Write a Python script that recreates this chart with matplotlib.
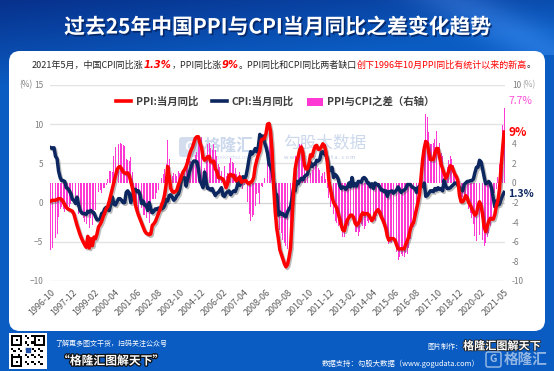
import matplotlib
matplotlib.use('Agg')
import matplotlib.pyplot as plt
import matplotlib.patheffects as pe
import matplotlib.transforms as mtransforms
from matplotlib.patches import FancyBboxPatch, Patch, Rectangle
from matplotlib.lines import Line2D
import numpy as np
import pandas as pd

plt.rcParams['font.family'] = ['Noto Sans CJK SC', 'DejaVu Sans']

# monthly data, 1996-10 .. 2021-05
months = pd.period_range('1996-10', '2021-05', freq='M')

cpi = [
    7.0, 6.9, 7.0,  # 1996 Oct-Dec
    5.9, 5.6, 4.0, 3.2, 2.8, 2.8, 2.7, 1.9, 1.8, 1.5, 1.1, 0.4,  # 1997
    0.3, -0.1, 0.7, -0.3, -1.0, -1.3, -1.4, -1.4, -1.5, -1.1, -1.2, -1.0,  # 1998
    -1.2, -1.3, -1.8, -2.2, -2.2, -2.1, -1.4, -1.3, -0.8, -0.6, -0.9, -1.0,  # 1999
    -0.2, 0.7, -0.2, -0.3, 0.1, 0.5, 0.5, 0.3, 0.0, 0.0, 1.3, 1.5,  # 2000
    1.2, 0.0, 0.8, 1.6, 1.7, 1.4, 1.5, 1.0, -0.1, 0.2, -0.3, -0.3,  # 2001
    -1.0, 0.0, -0.8, -1.3, -1.1, -0.8, -0.9, -0.7, -0.7, -0.8, -0.7, -0.4,  # 2002
    0.4, 0.2, 0.9, 1.0, 0.7, 0.3, 0.5, 0.9, 1.1, 1.8, 3.0, 3.2,  # 2003
    3.2, 2.1, 3.0, 3.8, 4.4, 5.0, 5.3, 5.3, 5.2, 4.3, 2.8, 2.4,  # 2004
    1.9, 3.9, 2.7, 1.8, 1.8, 1.6, 1.8, 1.3, 0.9, 1.2, 1.3, 1.6,  # 2005
    1.9, 0.9, 0.8, 1.2, 1.4, 1.5, 1.0, 1.3, 1.5, 1.4, 1.9, 2.8,  # 2006
    2.2, 2.7, 3.3, 3.0, 3.4, 4.4, 5.6, 6.5, 6.2, 6.5, 6.9, 6.5,  # 2007
    7.1, 8.7, 8.3, 8.5, 7.7, 7.1, 6.3, 4.9, 4.6, 4.0, 2.4, 1.2,  # 2008
    1.0, -1.6, -1.2, -1.5, -1.4, -1.7, -1.8, -1.2, -0.8, -0.5, 0.6, 1.9,  # 2009
    1.5, 2.7, 2.4, 2.8, 3.1, 2.9, 3.3, 3.5, 3.6, 4.4, 5.1, 4.6,  # 2010
    4.9, 4.9, 5.4, 5.3, 5.5, 6.4, 6.5, 6.2, 6.1, 5.5, 4.2, 4.1,  # 2011
    4.5, 3.2, 3.6, 3.4, 3.0, 2.2, 1.8, 2.0, 1.9, 1.7, 2.0, 2.5,  # 2012
    2.0, 3.2, 2.1, 2.4, 2.1, 2.7, 2.7, 2.6, 3.1, 3.2, 3.0, 2.5,  # 2013
    2.5, 2.0, 2.4, 1.8, 2.5, 2.3, 2.3, 2.0, 1.6, 1.6, 1.4, 1.5,  # 2014
    0.8, 1.4, 1.4, 1.5, 1.2, 1.4, 1.6, 2.0, 1.6, 1.3, 1.5, 1.6,  # 2015
    1.8, 2.3, 2.3, 2.3, 2.0, 1.9, 1.8, 1.3, 1.9, 2.1, 2.3, 2.1,  # 2016
    2.5, 0.8, 0.9, 1.2, 1.5, 1.5, 1.4, 1.8, 1.6, 1.9, 1.7, 1.8,  # 2017
    1.5, 2.9, 2.1, 1.8, 1.8, 1.9, 2.1, 2.3, 2.5, 2.5, 2.2, 1.9,  # 2018
    1.7, 1.5, 2.3, 2.5, 2.7, 2.7, 2.8, 2.8, 3.0, 3.8, 4.5, 4.5,  # 2019
    5.4, 5.2, 4.3, 3.3, 2.4, 2.5, 2.7, 2.4, 1.7, 0.5, -0.5, 0.2,  # 2020
    -0.3, -0.2, 0.4, 0.9, 1.3,  # 2021 Jan-May
]

ppi = [
    0.2, 0.3, 0.3,  # 1996 Oct-Dec
    0.3, 0.4, 0.5, 0.5, 0.4, 0.1, -0.3, -0.6, -0.8, -0.9, -1.0, -1.1,  # 1997
    -1.5, -2.2, -2.9, -3.5, -4.1, -4.6, -5.0, -5.4, -5.7, -4.3, -5.8, -4.6,  # 1998
    -5.5, -4.4, -4.6, -4.0, -3.1, -2.8, -2.4, -1.8, -1.3, -0.8, -0.5, 0.2,  # 1999
    1.0, 1.8, 2.6, 3.4, 4.2, 4.5, 4.6, 4.3, 3.9, 3.8, 3.7, 3.8,  # 2000
    3.4, 2.7, 1.9, 1.0, -0.3, -1.0, -1.6, -2.1, -2.6, -3.1, -3.6, -3.9,  # 2001
    -4.0, -4.1, -4.0, -2.9, -2.7, -2.4, -1.9, -1.4, -0.9, -0.3, 0.2, 1.0,  # 2002
    2.3, 4.6, 3.3, 1.8, 1.4, 1.3, 1.4, 1.6, 2.3, 2.8, 3.4, 3.9,  # 2003
    4.2, 4.6, 5.2, 6.0, 6.6, 7.0, 7.6, 8.2, 8.4, 8.4, 7.6, 7.1,  # 2004
    5.8, 5.4, 5.6, 5.8, 5.9, 5.2, 5.2, 5.3, 4.3, 4.0, 3.2, 3.2,  # 2005
    3.1, 3.0, 2.5, 1.9, 2.4, 3.5, 3.6, 3.4, 3.5, 2.9, 2.8, 3.1,  # 2006
    3.3, 2.6, 2.7, 2.8, 2.8, 2.5, 2.4, 2.6, 2.7, 3.2, 4.6, 5.4,  # 2007
    6.1, 6.6, 8.0, 8.1, 8.2, 8.8, 10.0, 10.1, 9.1, 6.6, 2.0, -1.1,  # 2008
    -3.3, -4.5, -6.0, -6.6, -7.2, -7.8, -8.2, -7.9, -7.0, -5.8, -2.1, 1.7,  # 2009
    4.3, 5.4, 5.9, 6.8, 7.1, 6.4, 4.8, 4.3, 4.3, 5.0, 6.1, 5.9,  # 2010
    6.6, 7.2, 7.3, 6.8, 6.8, 7.1, 7.5, 7.3, 6.5, 5.0, 2.7, 1.7,  # 2011
    0.7, 0.0, -0.3, -0.7, -1.4, -2.1, -2.9, -3.5, -3.6, -2.8, -2.2, -1.9,  # 2012
    -1.6, -1.6, -1.9, -2.6, -2.9, -2.7, -2.3, -1.6, -1.3, -1.5, -1.4, -1.4,  # 2013
    -1.6, -2.0, -2.3, -2.0, -1.4, -1.1, -0.9, -1.2, -1.8, -2.2, -2.7, -3.3,  # 2014
    -4.3, -4.8, -4.6, -4.6, -4.6, -4.8, -5.4, -5.9, -5.9, -5.9, -5.9, -5.9,  # 2015
    -5.3, -4.9, -4.3, -3.4, -2.8, -2.6, -1.7, -0.8, 0.1, 1.2, 3.3, 5.5,  # 2016
    6.9, 7.8, 7.6, 6.4, 5.5, 5.5, 5.5, 6.3, 6.9, 6.9, 5.8, 4.9,  # 2017
    4.3, 3.7, 3.1, 3.4, 4.1, 4.7, 4.6, 4.1, 3.6, 3.3, 2.7, 0.9,  # 2018
    0.1, 0.1, 0.4, 0.9, 0.6, 0.0, -0.3, -0.8, -1.2, -1.6, -1.4, -0.5,  # 2019
    0.1, -0.4, -1.5, -3.1, -3.7, -3.0, -2.4, -2.0, -2.1, -2.1, -1.5, -0.4,  # 2020
    0.3, 1.7, 4.4, 6.8, 9.0,  # 2021 Jan-May
]

tick_labels = ['1996-10', '1997-12', '1999-02', '2000-04', '2001-06', '2002-08',
               '2003-10', '2004-12', '2006-02', '2007-04', '2008-06', '2009-08',
               '2010-10', '2011-12', '2013-02', '2014-04', '2015-06', '2016-08',
               '2017-10', '2018-12', '2020-02', '2021-05']

assert len(cpi) == len(ppi) == len(months)

labels = [p.strftime('%Y-%m') for p in months]
x = np.arange(len(months))
ppi = np.array(ppi)
cpi = np.array(cpi)
gap = ppi - cpi  # PPI与CPI之差

W, H = 554, 371
RED = '#ff0000'
NAVY = '#0c2660'
PINK = '#ff38d4'
GRAY = '#7f7f7f'

fig = plt.figure(figsize=(W / 100, H / 100), dpi=100)

# ---- background, card, header / footer (pixel coords, y down) ----
bg = fig.add_axes([0, 0, 1, 1], zorder=0)
bg.set_xlim(0, W)
bg.set_ylim(H, 0)
bg.axis('off')

yy, xx = np.mgrid[0:H, 0:W]
c_dark = np.array([0x07, 0x31, 0x8c]) / 255
c_mid = np.array([0x0b, 0x5c, 0xc2]) / 255
t = np.clip((yy + 0.10 * xx) / 85.0, 0, 1)
img = c_dark * (1 - t)[..., None] + c_mid * t[..., None]
streak = np.exp(-((0.55 * xx - yy - 250) / 25.0) ** 2) * (yy < 55)
img = np.clip(img + 0.10 * streak[..., None], 0, 1)
bg.imshow(img, extent=(0, W, H, 0), aspect='auto', zorder=0)

bg.add_patch(FancyBboxPatch((9, 51), 536, 280, boxstyle='round,pad=0,rounding_size=11',
                            facecolor='white', edgecolor='none', zorder=1))

bg.text(278, 27, '过去25年中国PPI与CPI当月同比之差变化趋势', ha='center', va='center',
        fontsize=15, fontweight='bold', color='white', zorder=3,
        path_effects=[pe.withSimplePatchShadow(offset=(1.2, -1.2), shadow_rgbFace='#021a50', alpha=0.7)])

# subtitle with coloured runs
parts = [
    ('2021年5月，中国CPI同比涨', '#262626', {}),
    ('1.3%', RED, {'family': ['DejaVu Sans'], 'style': 'italic', 'weight': 'bold', 'size': 7.2}),
    ('，PPI同比涨', '#262626', {}),
    ('9%', RED, {'family': ['DejaVu Sans'], 'style': 'italic', 'weight': 'bold', 'size': 7.2}),
    ('。PPI同比和CPI同比两者缺口', '#262626', {}),
    ('创下1996年10月PPI同比有统计以来的新高', RED, {}),
    ('。', '#262626', {}),
]
renderer = fig.canvas.get_renderer()
cur = 32
for s, col, kw in parts:
    kw = dict(kw)
    size = kw.pop('size', 6.5)
    tt = bg.text(cur, 65, s, color=col, fontsize=size, ha='left', va='center', zorder=3, **kw)
    cur += tt.get_window_extent(renderer).width

# watermarks
bg.add_patch(FancyBboxPatch((179, 137), 21, 20, boxstyle='round,pad=0,rounding_size=3',
                            facecolor='#d3ddee', edgecolor='none', zorder=2))
bg.text(189.5, 147, 'G', ha='center', va='center', fontsize=10, fontweight='bold',
        color='white', zorder=2)
bg.text(204, 146, '格隆汇', ha='left', va='center', fontsize=12, fontweight='bold',
        color='#ccd8ec', zorder=2)
bg.text(205, 158, 'www.gelonghui.com', ha='left', va='center', fontsize=3.5,
        color='#ccd8ec', zorder=2)
bg.text(283, 143, '勾股大数据', ha='left', va='center', fontsize=12,
        color='#ccd8ec', zorder=2)
bg.text(284, 157, 'w w w . g o g u d a t a . c o m', ha='left', va='center', fontsize=4,
        color='#b8c8e2', zorder=2)

# axis unit labels
bg.text(33, 85, '(%)', ha='right', va='center', fontsize=6, color=GRAY, zorder=3)
bg.text(522, 85, '(%)', ha='left', va='center', fontsize=6, color='#a6a6a6', zorder=3)

# footer: QR code placeholder
bg.add_patch(Rectangle((9, 333), 38, 36, facecolor='white', edgecolor='none', zorder=2))
qi, qj = np.indices((15, 15))
qr = ((qi * 7 + qj * 13 + qi * qj) % 3 == 0).astype(float)
for (r0, c0) in [(0, 0), (0, 10), (10, 0)]:
    qr[r0:r0 + 5, c0:c0 + 5] = 1
    qr[r0 + 1:r0 + 4, c0 + 1:c0 + 4] = 0
    qr[r0 + 2:r0 + 3, c0 + 2:c0 + 3] = 1
bg.imshow(1 - qr, cmap='gray', extent=(11, 45, 367, 335), aspect='auto',
          interpolation='nearest', zorder=3, vmin=0, vmax=1)
bg.add_patch(Rectangle((25, 347), 6, 6, facecolor='#1d4fa8', edgecolor='white', lw=0.5, zorder=4))

bg.text(55, 344, '了解更多图文干货，扫码关注公众号', ha='left', va='center', fontsize=5,
        color='white', zorder=3)
bg.text(58, 361, '“格隆汇图解天下”', ha='left', va='center', fontsize=8.5,
        fontweight='bold', color='white', zorder=3,
        path_effects=[pe.withStroke(linewidth=1.8, foreground='#111111')])
bg.text(462, 347, '图片制作：', ha='right', va='center', fontsize=5, color='white', zorder=3)
bg.text(463, 346, '格隆汇图解天下', ha='left', va='center', fontsize=8,
        fontweight='bold', color='white', zorder=3,
        path_effects=[pe.withStroke(linewidth=1.2, foreground='#222222')])
bg.text(480, 364, '数据支持：勾股大数据（www.gogudata.com）', ha='right', va='center',
        fontsize=5.3, color='white', zorder=3)
bg.add_patch(FancyBboxPatch((486, 352), 15, 15, boxstyle='round,pad=0,rounding_size=2',
                            facecolor='none', edgecolor='white', lw=1, alpha=0.6, zorder=4))
bg.text(493.5, 359.5, 'G', ha='center', va='center', fontsize=7.5, fontweight='bold',
        color='white', alpha=0.6, zorder=4)
bg.text(504, 359, '格隆汇', ha='left', va='center', fontsize=10.5, fontweight='bold',
        color='white', alpha=0.55, zorder=4)

# ---- chart ----
ax = fig.add_axes([50 / W, 1 - 281 / H, 455 / W, 196 / H], zorder=2)
axr = ax.twinx()
axr.set_zorder(1)
ax.set_zorder(2)
ax.patch.set_visible(False)
axr.patch.set_visible(False)

ax.set_xlim(-0.6, len(x) - 0.4)
ax.set_ylim(-10, 15)
axr.set_ylim(-10, 10)

# horizontal grid (left-axis values) behind the bars
blend = mtransforms.blended_transform_factory(axr.transAxes, ax.transData)
for v in [15, 10, 5, -5, -10]:
    axr.plot([0, 1], [v, v], transform=blend, color='#e3e3e3', lw=1.0, zorder=0)
axr.plot([0, 1], [0, 0], transform=blend, color='#d4d4d4', lw=0.9, zorder=0)

axr.bar(x, gap, width=0.6, color=PINK, linewidth=0, zorder=1)

shadow = [pe.SimpleLineShadow(offset=(1.0, -1.2), shadow_color='#404040', alpha=0.35), pe.Normal()]
ax.plot(x, cpi, color=NAVY, lw=2.5, solid_joinstyle='round', zorder=3, path_effects=shadow)
ax.plot(x, ppi, color=RED, lw=2.5, solid_joinstyle='round', zorder=4, path_effects=shadow)

for a in (ax, axr):
    for sp in a.spines.values():
        sp.set_visible(False)

ax.set_yticks([-10, -5, 0, 5, 10, 15])
ax.tick_params(axis='y', length=0, labelsize=6, labelcolor=GRAY, pad=5)
rt = list(range(-10, 11, 2))
axr.set_yticks(rt)
axr.set_yticklabels(['' if v in (6, 8) else str(v) for v in rt])
axr.tick_params(axis='y', length=0, labelsize=6, labelcolor=GRAY, pad=5)

ax.set_xticks([labels.index(s) for s in tick_labels])
ax.set_xticklabels(tick_labels, rotation=45, ha='right', rotation_mode='anchor',
                   fontsize=6.4, color='#595959')
ax.tick_params(axis='x', length=0, pad=5)

# end-point labels
axr.annotate(f'{gap[-1]:.1f}%', xy=(x[-1], gap[-1]), xytext=(3, 5), textcoords='offset points',
             ha='left', va='center', fontsize=7.5, color='#ff4fd8', annotation_clip=False)
ax.annotate(f'{ppi[-1]:.0f}%', xy=(x[-1], ppi[-1]), xytext=(3, 0), textcoords='offset points',
            ha='left', va='center', fontsize=8.5, fontweight='bold', color=RED, annotation_clip=False)
ax.annotate(f'{cpi[-1]:.1f}%', xy=(x[-1], cpi[-1]), xytext=(3, -1), textcoords='offset points',
            ha='left', va='center', fontsize=7.5, fontweight='bold', color=NAVY, annotation_clip=False)

handles = [Line2D([], [], color=RED, lw=2.6), Line2D([], [], color=NAVY, lw=2.6),
           Patch(facecolor=PINK, edgecolor='none')]
fig.legend(handles, ['PPI:当月同比', 'CPI:当月同比', 'PPI与CPI之差（右轴）'],
           loc='center', bbox_to_anchor=(275 / W, 1 - 102 / H), ncol=3, frameon=False,
           prop={'weight': 'bold', 'size': 7.5}, labelcolor='#404040',
           handlelength=1.5, handleheight=0.8, columnspacing=1.3, handletextpad=0.4)

fig.savefig('out.png', dpi=100)
